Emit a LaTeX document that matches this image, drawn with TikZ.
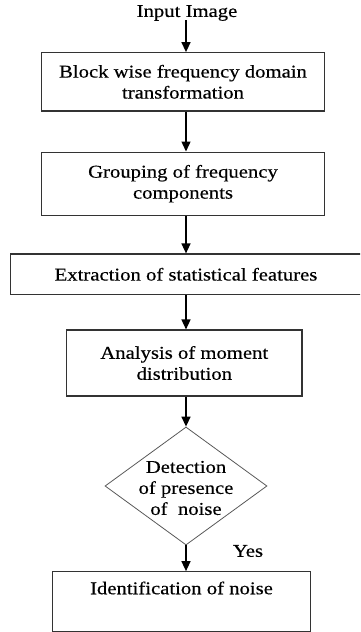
\documentclass[tikz,border=0pt]{standalone}
\usepackage{fontspec}
\setmainfont{Liberation Serif}[FakeStretch=1.15,FakeBold=0.4]
\usetikzlibrary{arrows.meta,shapes.geometric}
\begin{document}
\begin{tikzpicture}[x=1pt,y=1pt,
  box/.style={draw=black!80, line width=1.1pt, rectangle, inner sep=0pt, align=center},
  txt/.style={inner sep=0pt, align=center},
  arr/.style={draw=black, line width=1.4pt, -{Triangle[length=10pt,width=9pt]}},
  font=\fontsize{18}{21}\selectfont]
\useasboundingbox (0,0) rectangle (360,-632);
\clip (0,0) rectangle (360,-632);
\coordinate (ax) at (186,0);
\node[txt] (in) at (187,-13) {Input Image};
\node[box, minimum width=282.6pt, minimum height=58.3pt] (b1) at (183,-81.8) {Block wise frequency domain\\transformation};
\node[box, minimum width=282.6pt, minimum height=63.3pt] (b2) at (183,-183.7) {Grouping of frequency\\components};
\node[box, minimum width=350.6pt, minimum height=40.7pt] (b3) at (186,-274.3) {Extraction of statistical features};
\node[box, minimum width=235.3pt, minimum height=66pt] (b4) at (184.3,-363) {Analysis of moment\\distribution};
\node[diamond, draw=black!65, line width=0.8pt, inner sep=0pt, minimum width=162pt, minimum height=118pt] (d) at (186,-486) {};
\node[txt] (dt) at (186,-488) {Detection\\of presence\\of\ \ noise};
\node[box, minimum width=258.4pt, minimum height=59.6pt] (b5) at (181.5,-601.5) {};
\node[txt] (b5t) at (181.5,-588) {Identification of noise};
\node[txt] (yes) at (248,-551) {Yes};
\coordinate (top) at (186,-20);
\draw[arr] (top) -- (b1.north -| ax);
\draw[arr] (b1.south -| ax) -- (b2.north -| ax);
\draw[arr] (b2.south -| ax) -- (b3.north -| ax);
\draw[arr] (b3.south -| ax) -- (b4.north -| ax);
\draw[arr] (b4.south -| ax) -- (d.north);
\draw[arr] (d.south) -- (b5.north -| ax);
\end{tikzpicture}
\end{document}
